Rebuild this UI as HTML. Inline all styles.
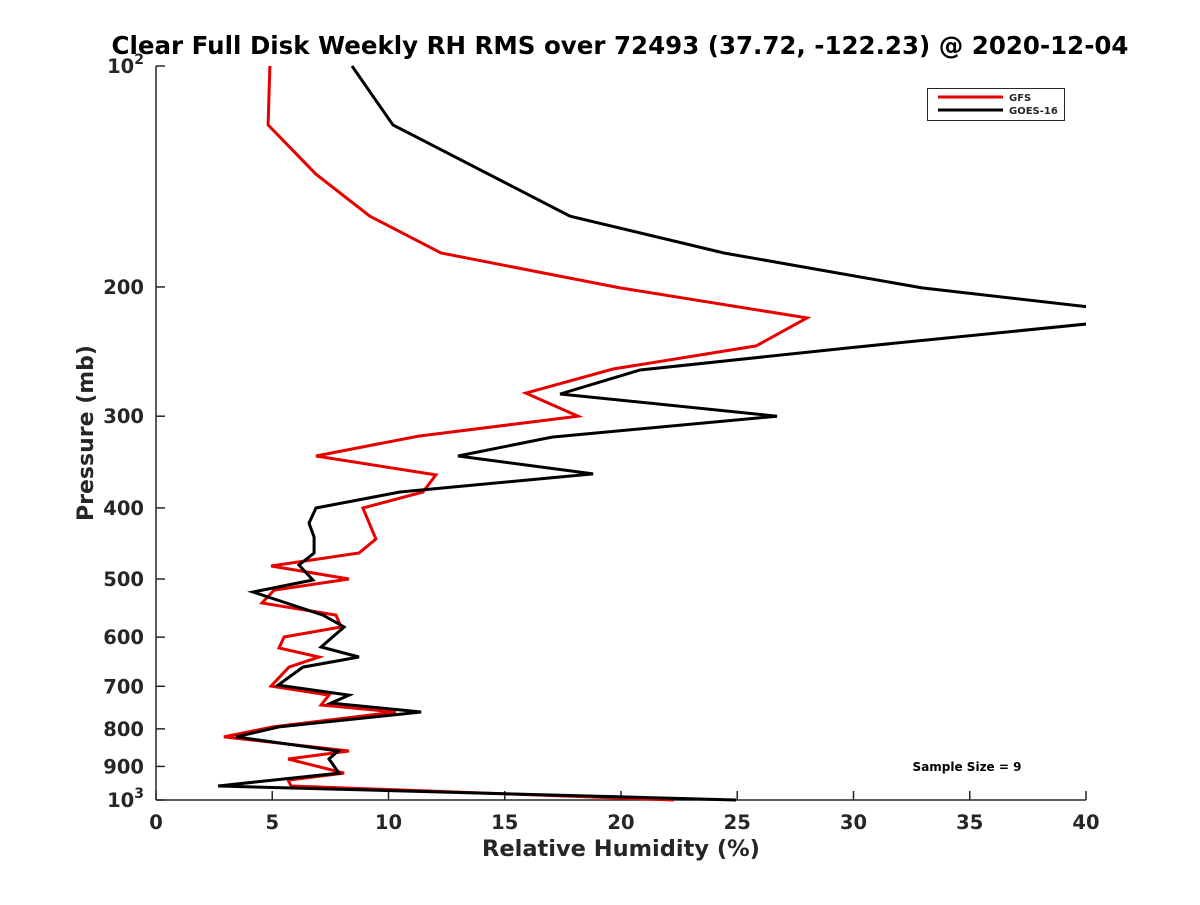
<!DOCTYPE html>
<html><head><meta charset="utf-8"><style>
body{margin:0;background:#fff}
svg text{font-family:"DejaVu Sans","Liberation Sans",sans-serif;font-weight:bold;fill:#262626}
</style></head><body>
<svg id="chart" width="1200" height="900" xmlns="http://www.w3.org/2000/svg">
<rect width="1200" height="900" fill="#fff"/>
<text x="620" y="54" font-size="24.5" text-anchor="middle" style="fill:#000">Clear Full Disk Weekly RH RMS over 72493 (37.72, -122.23) @ 2020-12-04</text>
<defs><clipPath id="plotclip"><rect x="156" y="60" width="930" height="745"/></clipPath></defs>
<g id="axes"></g>
<g id="series" clip-path="url(#plotclip)"></g>
<text x="621" y="856" font-size="22.5" text-anchor="middle">Relative Humidity (%)</text>
<text transform="translate(93,433) rotate(-90)" font-size="22" text-anchor="middle">Pressure (mb)</text>
<g>
<rect x="927.5" y="88.5" width="137" height="32" fill="#fff" stroke="#262626" stroke-width="1"/>
<line x1="938" y1="97" x2="1003" y2="97" stroke="#e60000" stroke-width="3"/>
<line x1="938" y1="110" x2="1003" y2="110" stroke="#000" stroke-width="3"/>
<text x="1009" y="101" font-size="10">GFS</text>
<text x="1009" y="114" font-size="10">GOES-16</text>
</g>
<text x="967" y="771" font-size="12" text-anchor="middle" style="fill:#000">Sample Size = 9</text>
</svg>
<script>
const xTicks=[0,5,10,15,20,25,30,35,40];
const yTicks=[100,200,300,400,500,600,700,800,900,1000];
const yTickLabels=["10|2","200","300","400","500","600","700","800","900","10|3"];
const gfsP=[100,120.3,140.4,160.2,179.8,200.6,220.4,240.6,258.7,279,300,319.3,339.9,360.6,380.5,400.1,441,460.8,480,500,517.6,539,559.8,581.2,599.7,620.8,638.6,659,699.6,719.6,742.2,758.7,795.1,820.4,857.6,879.4,919.1,939.6,957.1,1000];
const gfsRH=[4.9,4.82,6.88,9.2,12.26,19.96,28.0,25.81,19.66,15.91,18.15,11.3,6.88,12.04,11.48,8.9,9.46,8.73,4.95,8.3,5.08,4.56,7.74,7.96,5.51,5.29,7.01,5.72,4.95,7.44,7.1,10.32,5.03,2.92,8.3,5.68,8.09,5.68,5.81,22.28];
const goesP=[100,120.3,160.2,179.8,200.6,219,242,259.5,279.8,300,320.3,339.9,359.5,380.5,400.1,419.5,438.3,460.8,478.5,501.5,520.8,559.8,581.2,618.9,638.6,659,697.4,719.6,737.8,758.7,795.1,820.4,857.6,879.4,919.1,957.1,1000];
const goesRH=[8.43,10.19,17.81,24.43,32.95,43.5,29.85,20.82,17.38,26.71,17.03,12.99,18.8,10.49,6.88,6.58,6.8,6.8,6.15,6.75,4.17,7.18,8.09,7.1,8.73,6.32,5.25,8.3,7.53,11.4,5.29,3.44,7.83,7.44,7.87,2.67,24.95];
const X0=156,X1=1086,Y0=66,Y1=800;
const xs=v=>X0+(v-0)/40*(X1-X0);
const ys=p=>Y0+(Math.log10(p)-2)*(Y1-Y0);
const NS="http://www.w3.org/2000/svg";
const axes=document.getElementById('axes'),ser=document.getElementById('series');
function mk(tag,at,parent){const e=document.createElementNS(NS,tag);for(const k in at)e.setAttribute(k,at[k]);parent.appendChild(e);return e;}
const la=mk('line',{x1:X0,y1:Y0,x2:X0,y2:Y1,stroke:'#262626','stroke-width':1.5},axes);


const lb=mk('line',{x1:X0,y1:Y1,x2:X1,y2:Y1,stroke:'#262626','stroke-width':1.5},axes);


xTicks.forEach(v=>{const x=xs(v);
 mk('line',{x1:x,y1:Y1,x2:x,y2:Y1-9,stroke:'#262626','stroke-width':1.5},axes);
 const t=mk('text',{x:x,y:Y1+29,'font-size':19.5,'text-anchor':'middle'},axes);t.textContent=v;
 
 });
yTicks.forEach((p,i)=>{const y=ys(p);
 mk('line',{x1:X0,y1:y,x2:X0+9,y2:y,stroke:'#262626','stroke-width':1.5},axes);
 const lab=yTickLabels[i];
 const t=mk('text',{x:X0-12,y:y+7,'font-size':19.5,'text-anchor':'end'},axes);
 
 
 if(lab.includes('|')){const [b,e]=lab.split('|');
  const s1=mk('tspan',{},t);s1.textContent=b;
  const s2=mk('tspan',{dy:-9,'font-size':14},t);s2.textContent=e;}
 else t.textContent=lab;});
function line(P,R,col,name){const d=P.map((p,i)=>(i?'L':'M')+xs(R[i]).toFixed(1)+','+ys(p).toFixed(1)).join('');
 const e=mk('path',{d:d,fill:'none',stroke:col,'stroke-width':3,'stroke-linejoin':'miter'},ser);
 
 }
line(gfsP,gfsRH,'#e60000','gfs-line');
line(goesP,goesRH,'#000','goes16-line');
</script>
</body></html>
